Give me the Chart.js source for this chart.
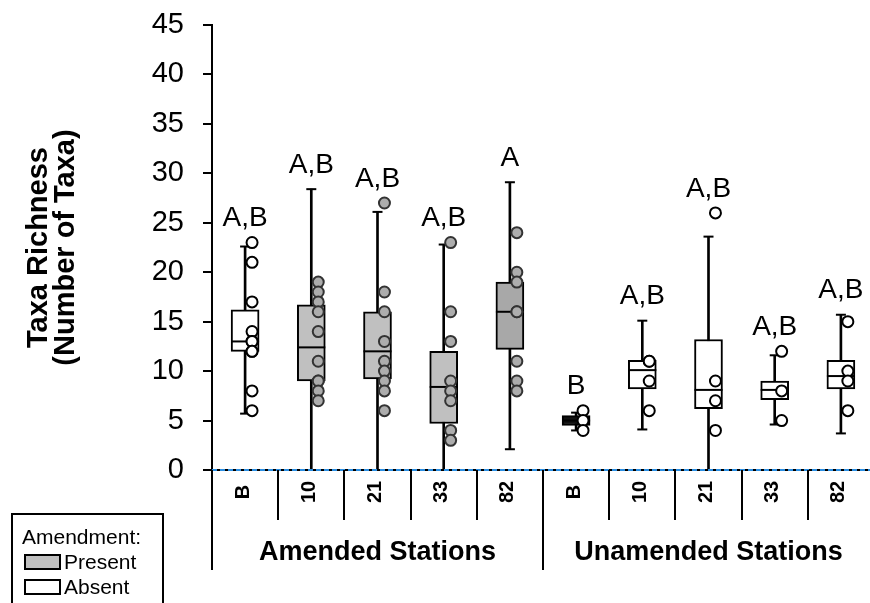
<!DOCTYPE html>
<html>
<head>
<meta charset="utf-8">
<script src="https://cdn.jsdelivr.net/npm/chart.js@4/dist/chart.umd.min.js"></script>
<style>
html,body{margin:0;padding:0;background:#fff;overflow:hidden;}
#wrap{width:874px;height:603px;position:relative;}
canvas{display:block;}
</style>
</head>
<body>
<div id="wrap"><canvas id="c" width="874" height="603"></canvas></div>
<script>
// ---------- data ----------
const categories = ['B','10','21','33','82','B','10','21','33','82'];
const groups = ['Amended Stations','Unamended Stations'];
const groupSizes = [5,5];
const amendmentPresent = [false,true,true,true,true,false,false,false,false,false];
const q1          = [12.0, 9.0, 9.2, 4.7,12.2, 4.5, 8.2, 6.2, 7.1, 8.2];
const median      = [13.0,12.4,12.0, 8.4,16.0, 5.0,10.1, 8.1, 8.1, 9.5];
const q3          = [16.2,16.7,16.0,12.0,19.0, 5.5,11.1,13.2, 9.0,11.1];
const whiskerLow  = [ 5.7, 0.0, 0.0, 0.0, 2.1, 4.0, 4.1, 0.0, 4.6, 3.7];
const whiskerHigh = [22.6,28.4,26.1,22.8,29.1, 5.8,15.1,23.6,11.6,15.7];
const observations = [
  [23,21,17,14,13,13,12,12,8,6],
  [19,18,17,16,14,11,9,9,8,7],
  [27,18,16,13,11,10,9,8,6],
  [23,16,13,9,8,7,4,3],
  [24,20,19,16,16,11,9,8],
  [6,5,4],
  [11,11,9,6],
  [26,9,7,4],
  [12,8,5],
  [15,10,9,6]
];
const letters = ['A,B','A,B','A,B','A,B','A','B','A,B','A,B','A,B','A,B'];
const yTicks = [0,5,10,15,20,25,30,35,40,45];
const yTitle = ['Taxa Richness','(Number of Taxa)'];
const legendTitle = 'Amendment:';
const legendLabels = ['Present','Absent'];

// ---------- styles ----------
const FONT = "'Liberation Sans', Arial, sans-serif";
// the very short unamended-B box renders as a solid dark block in the reference
const boxShade = ['#ffffff','#c0c0c0','#c0c0c0','#c0c0c0','#a8a8a8','#111111','#ffffff','#ffffff','#ffffff','#ffffff'];
const presentSwatch = '#c0c0c0';
const POINT_SHIFT = 0.105;

const n = categories.length;
const idx = categories.map((_, i) => i);

const pointData = [], pointFill = [], pointBorder = [];
observations.forEach((arr, i) => arr.forEach(v => {
  pointData.push({x: i + POINT_SHIFT, y: v});
  pointFill.push(amendmentPresent[i] ? '#adadad' : '#ffffff');
  pointBorder.push(amendmentPresent[i] ? '#333333' : '#000000');
}));

const capData = [];
idx.forEach(i => { capData.push({x:i, y:whiskerLow[i]}); capData.push({x:i, y:whiskerHigh[i]}); });

const overlay = {
  id: 'overlay',
  afterDraw(chart) {
    const ctx = chart.ctx;
    const xp = chart.scales.xp, y = chart.scales.y;
    const area = chart.chartArea;
    const y0 = area.bottom;
    ctx.save();
    // letters above each box
    ctx.fillStyle = '#000';
    ctx.font = '28px ' + FONT;
    ctx.textAlign = 'center';
    ctx.textBaseline = 'middle';
    idx.forEach(i => {
      const top = Math.max(whiskerHigh[i], ...observations[i]);
      ctx.fillText(letters[i], xp.getPixelForValue(i), y.getPixelForValue(top) - 24);
    });
    // category separators
    ctx.strokeStyle = '#000';
    ctx.lineWidth = 2;
    let start = 0;
    const groupStarts = [];
    groupSizes.forEach(s => { groupStarts.push(start); start += s; });
    for (let i = 0; i < n; i++) {
      const bx = Math.round(xp.getPixelForValue(i - 0.5));
      const isGroup = groupStarts.includes(i);
      ctx.beginPath();
      ctx.moveTo(bx, y0);
      ctx.lineTo(bx, isGroup ? 570 : 520);
      ctx.stroke();
    }
    // category labels (rotated)
    ctx.font = 'bold 20px ' + FONT;
    idx.forEach(i => {
      ctx.save();
      ctx.translate(xp.getPixelForValue(i) - 2, 492);
      ctx.rotate(-Math.PI / 2);
      ctx.textAlign = 'center';
      ctx.textBaseline = 'middle';
      ctx.fillText(categories[i], 0, 0);
      ctx.restore();
    });
    // group labels
    ctx.font = 'bold 27px ' + FONT;
    ctx.textAlign = 'center';
    ctx.textBaseline = 'middle';
    groups.forEach((g, k) => {
      const c = groupStarts[k] + (groupSizes[k] - 1) / 2;
      ctx.fillText(g, xp.getPixelForValue(c), 553);
    });
    // legend
    ctx.lineWidth = 2;
    ctx.strokeRect(12, 514, 151, 100);
    ctx.font = '21px ' + FONT;
    ctx.textAlign = 'left';
    ctx.fillText(legendTitle, 22, 538);
    const sw = [presentSwatch, '#ffffff'];
    legendLabels.forEach((lab, k) => {
      const yy = 562 + k * 25;
      ctx.fillStyle = sw[k];
      ctx.fillRect(25, yy - 7, 35, 14);
      ctx.strokeStyle = '#000';
      ctx.strokeRect(25, yy - 7, 35, 14);
      ctx.fillStyle = '#000';
      ctx.fillText(lab, 64, yy + 1);
    });
    ctx.restore();
  }
};

new Chart(document.getElementById('c'), {
  type: 'bar',
  data: {
    labels: categories,
    datasets: [
      { // whiskers
        type: 'bar', order: 5, grouped: false,
        data: idx.map(i => [whiskerLow[i], whiskerHigh[i]]),
        backgroundColor: '#000', borderWidth: 0, barThickness: 2
      },
      { // caps
        type: 'scatter', order: 4, xAxisID: 'xp',
        data: capData, pointStyle: 'line', pointRadius: 5, pointHoverRadius: 5,
        borderColor: '#000', pointBorderWidth: 2, showLine: false
      },
      { // boxes
        type: 'bar', order: 3, grouped: false,
        data: idx.map(i => [q1[i], q3[i]]),
        backgroundColor: boxShade, borderColor: '#000', borderWidth: 2,
        borderSkipped: false, barThickness: 28
      },
      { // medians
        type: 'scatter', order: 2, xAxisID: 'xp',
        data: idx.map(i => ({x:i, y:median[i]})), pointStyle: 'line',
        pointRadius: 14, pointHoverRadius: 14, borderColor: '#000', pointBorderWidth: 2, showLine: false
      },
      { // observations
        type: 'scatter', order: 1, xAxisID: 'xp',
        data: pointData, pointRadius: 5.5, pointHoverRadius: 5.5,
        pointBackgroundColor: pointFill, pointBorderColor: pointBorder, pointBorderWidth: 2, showLine: false
      },
      { // zero reference line
        type: 'line', order: 0, xAxisID: 'xp',
        data: [{x:-0.5, y:0}, {x:n - 0.5, y:0}],
        borderColor: '#2b8fe3', borderWidth: 2, borderDash: [5,3], pointRadius: 0, clip: false, fill: false
      }
    ]
  },
  options: {
    responsive: false,
    animation: false,
    devicePixelRatio: 1,
    layout: { autoPadding: false, padding: { top: 25, left: 0, right: 0, bottom: 0 } },
    plugins: { legend: { display: false }, tooltip: { enabled: false } },
    scales: {
      x: {
        type: 'category', offset: true,
        grid: { display: false, drawTicks: false },
        border: { display: true, color: '#000', width: 2 },
        ticks: { display: false },
        afterFit(s) { s.height = 133; }
      },
      xp: {
        type: 'linear', display: false, offset: false, grid: { offset: false },
        min: -0.5, max: n - 0.5
      },
      y: {
        min: 0, max: 45,
        afterBuildTicks(s) { s.ticks = yTicks.map(v => ({value: v})); },
        ticks: { color: '#000', font: { size: 29, family: FONT }, padding: 19 },
        grid: { drawOnChartArea: false, tickLength: 9, color: '#000', lineWidth: 2 },
        border: { display: true, color: '#000', width: 2 },
        title: {
          display: true, text: yTitle, color: '#000',
          font: { size: 29, weight: 'bold', family: FONT, lineHeight: 0.95 },
          padding: { top: 25, bottom: 0 }
        },
        afterFit(s) { s.width = 212; s.paddingTop = 0; s.paddingBottom = 0; }
      }
    }
  },
  plugins: [overlay]
});
</script>
</body>
</html>
